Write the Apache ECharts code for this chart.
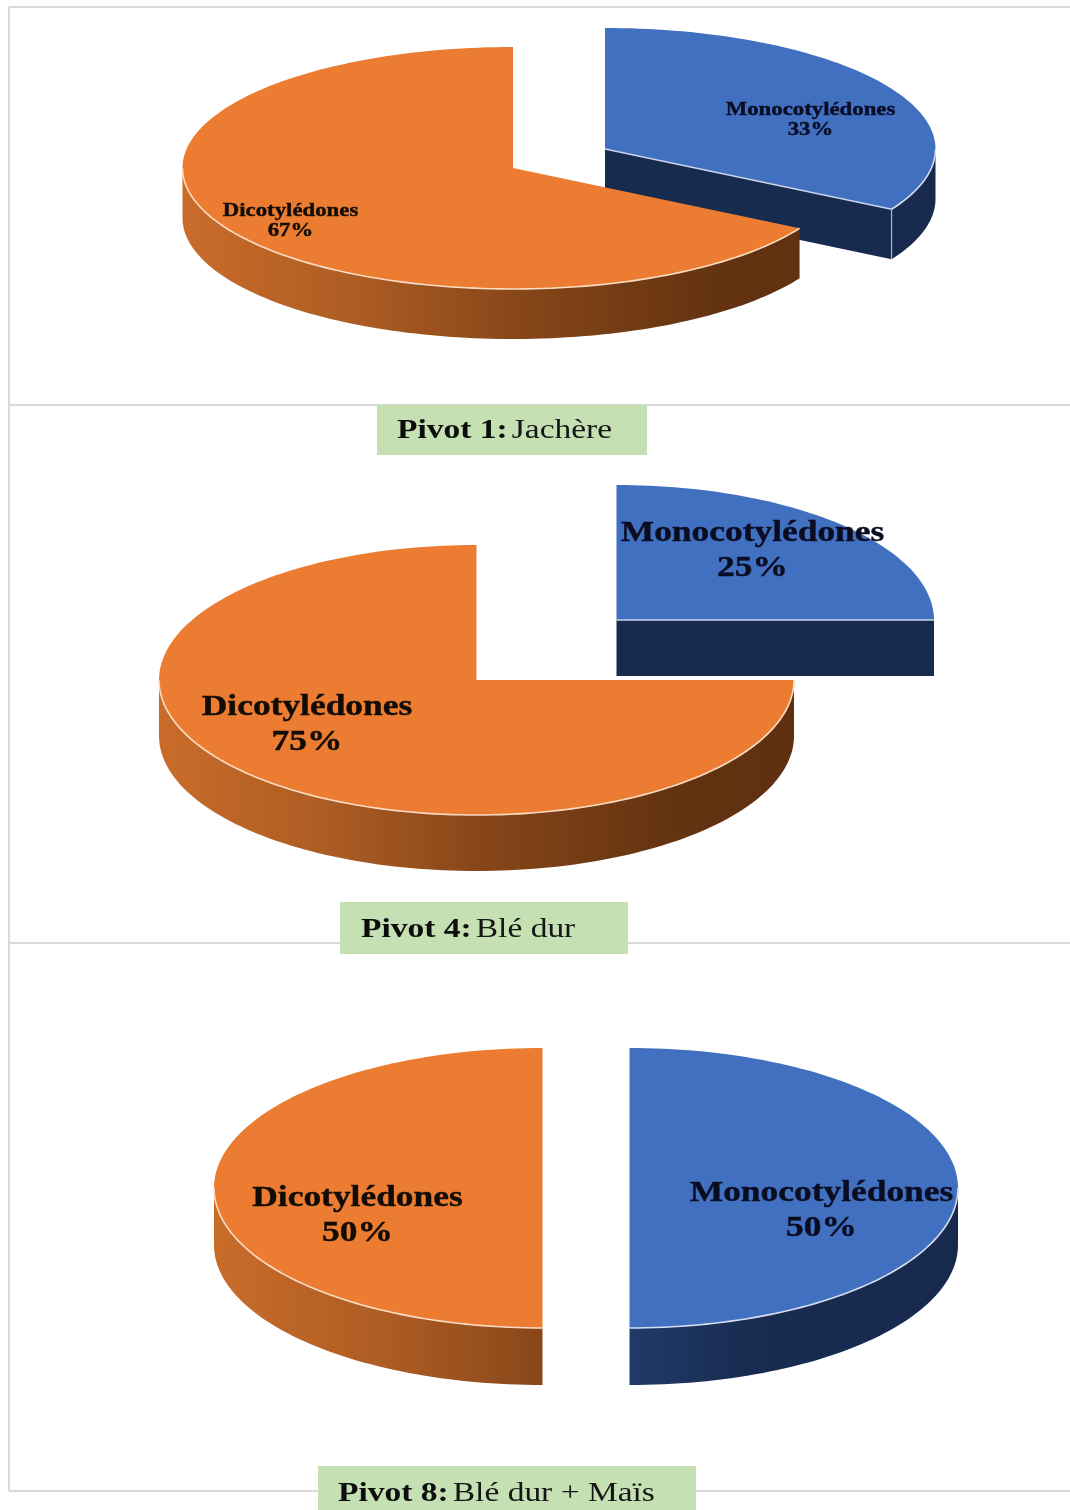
<!DOCTYPE html>
<html>
<head>
<meta charset="utf-8">
<style>html,body{margin:0;padding:0;background:#fff}#c{width:1070px;height:1510px}</style>
<script src="https://cdn.jsdelivr.net/npm/echarts@6/dist/echarts.min.js"></script>
</head>
<body>
<div id="c"></div>
<script>
// ---------- data ----------
const categories = ['Monocotylédones', 'Dicotylédones'];
const pivot1Values = [33.3, 66.7];
const pivot4Values = [25, 75];
const pivot8Values = [50, 50];
const captionBold = ['Pivot 1:', 'Pivot 4:', 'Pivot 8:'];
const captionRest = ['Jachère', 'Blé dur', 'Blé dur + Maïs'];

// ---------- layout (one entry per category in each pie) ----------
const pieLayouts = [
  { values: pivot1Values, rx: 330.5, ry: 121, depth: 50, font: 19, lineH: 20, scaleX: 1.2,
    centers: [[605, 149], [513, 168]], labels: [[810.5, 120], [290.5, 221.5]] },
  { values: pivot4Values, rx: 317.5, ry: 135, depth: 56, font: 30, lineH: 35, scaleX: 1.18,
    centers: [[616.5, 620], [476.5, 680]], labels: [[752.5, 551], [307, 725]] },
  { values: pivot8Values, rx: 328.5, ry: 140, depth: 57, font: 30, lineH: 35, scaleX: 1.18,
    centers: [[629.5, 1188], [542.5, 1188]], labels: [[821.5, 1211], [357.5, 1216]] }
];
const captionBoxes = [
  { x: 377, y: 405, w: 270, h: 50, tx: 397, ty: 431, fs: 27 },
  { x: 340, y: 902, w: 288, h: 52, tx: 361, ty: 930, fs: 27 },
  { x: 318, y: 1466, w: 378, h: 44, tx: 338, ty: 1494, fs: 27 }
];
const captionScaleX = 1.24;
const topColors = ['#4270c0', '#eb7c31'];
const rimLineColors = ['#d5deef', '#fbdcc4'];
const rimStops = [
  [{ offset: 0, color: '#1f3a69' }, { offset: 0.5, color: '#1f3a69' }, { offset: 0.68, color: '#182c50' }, { offset: 1, color: '#172a4e' }],
  [{ offset: 0, color: '#c96c2a' }, { offset: 0.25, color: '#ae5d24' }, { offset: 0.5, color: '#884719' }, { offset: 0.8, color: '#643310' }, { offset: 1, color: '#5f3010' }]
];
const wallColor = '#172b4f';
const serif = '"Liberation Serif", serif';

function pt(c, L, deg, dy) {
  const t = deg * Math.PI / 180;
  return [c[0] + L.rx * Math.sin(t), c[1] - L.ry * Math.cos(t) + (dy || 0)];
}
function arc(c, L, a, b, dy) {
  const out = [];
  const n = Math.max(2, Math.ceil(Math.abs(b - a) / 1.5));
  for (let i = 0; i <= n; i++) out.push(pt(c, L, a + (b - a) * i / n, dy));
  return out;
}

function makeRender(L) {
  return function (params, api) {
    const i = params.dataIndex;
    const total = L.values.reduce((s, v) => s + v, 0);
    let before = 0;
    for (let k = 0; k < i; k++) before += L.values[k];
    const v = api.value(0);
    const a = before / total * 360, b = (before + v) / total * 360;
    const c = L.centers[i];
    const kids = [];

    // straight cut faces turned toward the viewer
    const radial = [];
    if (b > 0 && b < 180) radial.push(b);
    if (a > 180 && a < 360) radial.push(a);
    radial.forEach(function (ang) {
      const p = pt(c, L, ang);
      kids.push({ type: 'polygon', shape: { points: [c, p, [p[0], p[1] + L.depth], [c[0], c[1] + L.depth]] },
        style: { fill: wallColor } });
    });

    // outer rim, front half only
    const fa = Math.max(a, 90), fb = Math.min(b, 270);
    if (fb > fa) {
      const upper = arc(c, L, fa, fb, 0), lower = arc(c, L, fb, fa, L.depth);
      kids.push({ type: 'polygon', shape: { points: upper.concat(lower) },
        style: { fill: { type: 'linear', x: c[0] - L.rx, y: 0, x2: c[0] + L.rx, y2: 0, global: true, colorStops: rimStops[i] } } });
    }

    // top face
    kids.push({ type: 'polygon', shape: { points: [c].concat(arc(c, L, a, b, 0)) }, style: { fill: topColors[i] } });

    // light edge lines
    if (fb > fa) {
      kids.push({ type: 'polyline', shape: { points: arc(c, L, fa, fb, 0) },
        style: { fill: null, stroke: rimLineColors[i], lineWidth: 1.6 } });
    }
    radial.forEach(function (ang) {
      const p = pt(c, L, ang);
      kids.push({ type: 'polyline', shape: { points: [c, p] }, style: { fill: null, stroke: '#c9d4e8', lineWidth: 1.4 } });
      if (ang > 90 && ang < 180) {
        kids.push({ type: 'polyline', shape: { points: [p, [p[0], p[1] + L.depth]] }, style: { fill: null, stroke: '#aab6cc', lineWidth: 1.2 } });
      }
    });

    // label
    const lab = L.labels[i];
    const ink = i === 0 ? '#0a0c22' : '#120c06';
    kids.push({ type: 'text', x: lab[0], y: lab[1], scaleX: L.scaleX, z2: 10,
      style: { text: categories[i] + '\n' + Math.round(v) + '%', fill: ink, stroke: ink, lineWidth: 0.4,
        font: 'bold ' + L.font + 'px ' + serif, lineHeight: L.lineH, align: 'center', verticalAlign: 'middle' } });

    return { type: 'group', children: kids };
  };
}

const frameColor = '#d9d9d9';
const frameY = [7, 405, 943, 1491];
const graphics = [];
frameY.forEach(function (y) {
  graphics.push({ type: 'line', shape: { x1: 9, y1: y, x2: 1070, y2: y }, style: { stroke: frameColor, lineWidth: 2 }, z: 0 });
});
graphics.push({ type: 'line', shape: { x1: 9, y1: 7, x2: 9, y2: 1491 }, style: { stroke: frameColor, lineWidth: 2 }, z: 0 });
captionBoxes.forEach(function (B, i) {
  graphics.push({ type: 'rect', shape: { x: B.x, y: B.y, width: B.w, height: B.h }, style: { fill: '#c5e0b3' }, z: 5 });
  graphics.push({ type: 'text', x: B.tx, y: B.ty, scaleX: captionScaleX, z: 6, style: {
    text: '{b|' + captionBold[i] + '} {r|' + captionRest[i] + '}',
    verticalAlign: 'middle', align: 'left', fill: '#111',
    rich: { b: { font: 'bold ' + B.fs + 'px ' + serif, fill: '#0d0d0d' }, r: { font: B.fs + 'px ' + serif, fill: '#161616' } }
  } });
});

const chart = echarts.init(document.getElementById('c'), null, { renderer: 'canvas' });
chart.setOption({
  animation: false,
  backgroundColor: '#ffffff',
  graphic: graphics,
  series: pieLayouts.map(function (L) {
    return {
      type: 'custom', coordinateSystem: 'none', renderItem: makeRender(L),
      data: L.values.map(function (v, i) { return { name: categories[i], value: [v] }; }),
      encode: { value: 0 }, silent: true
    };
  })
});
</script>
</body>
</html>
